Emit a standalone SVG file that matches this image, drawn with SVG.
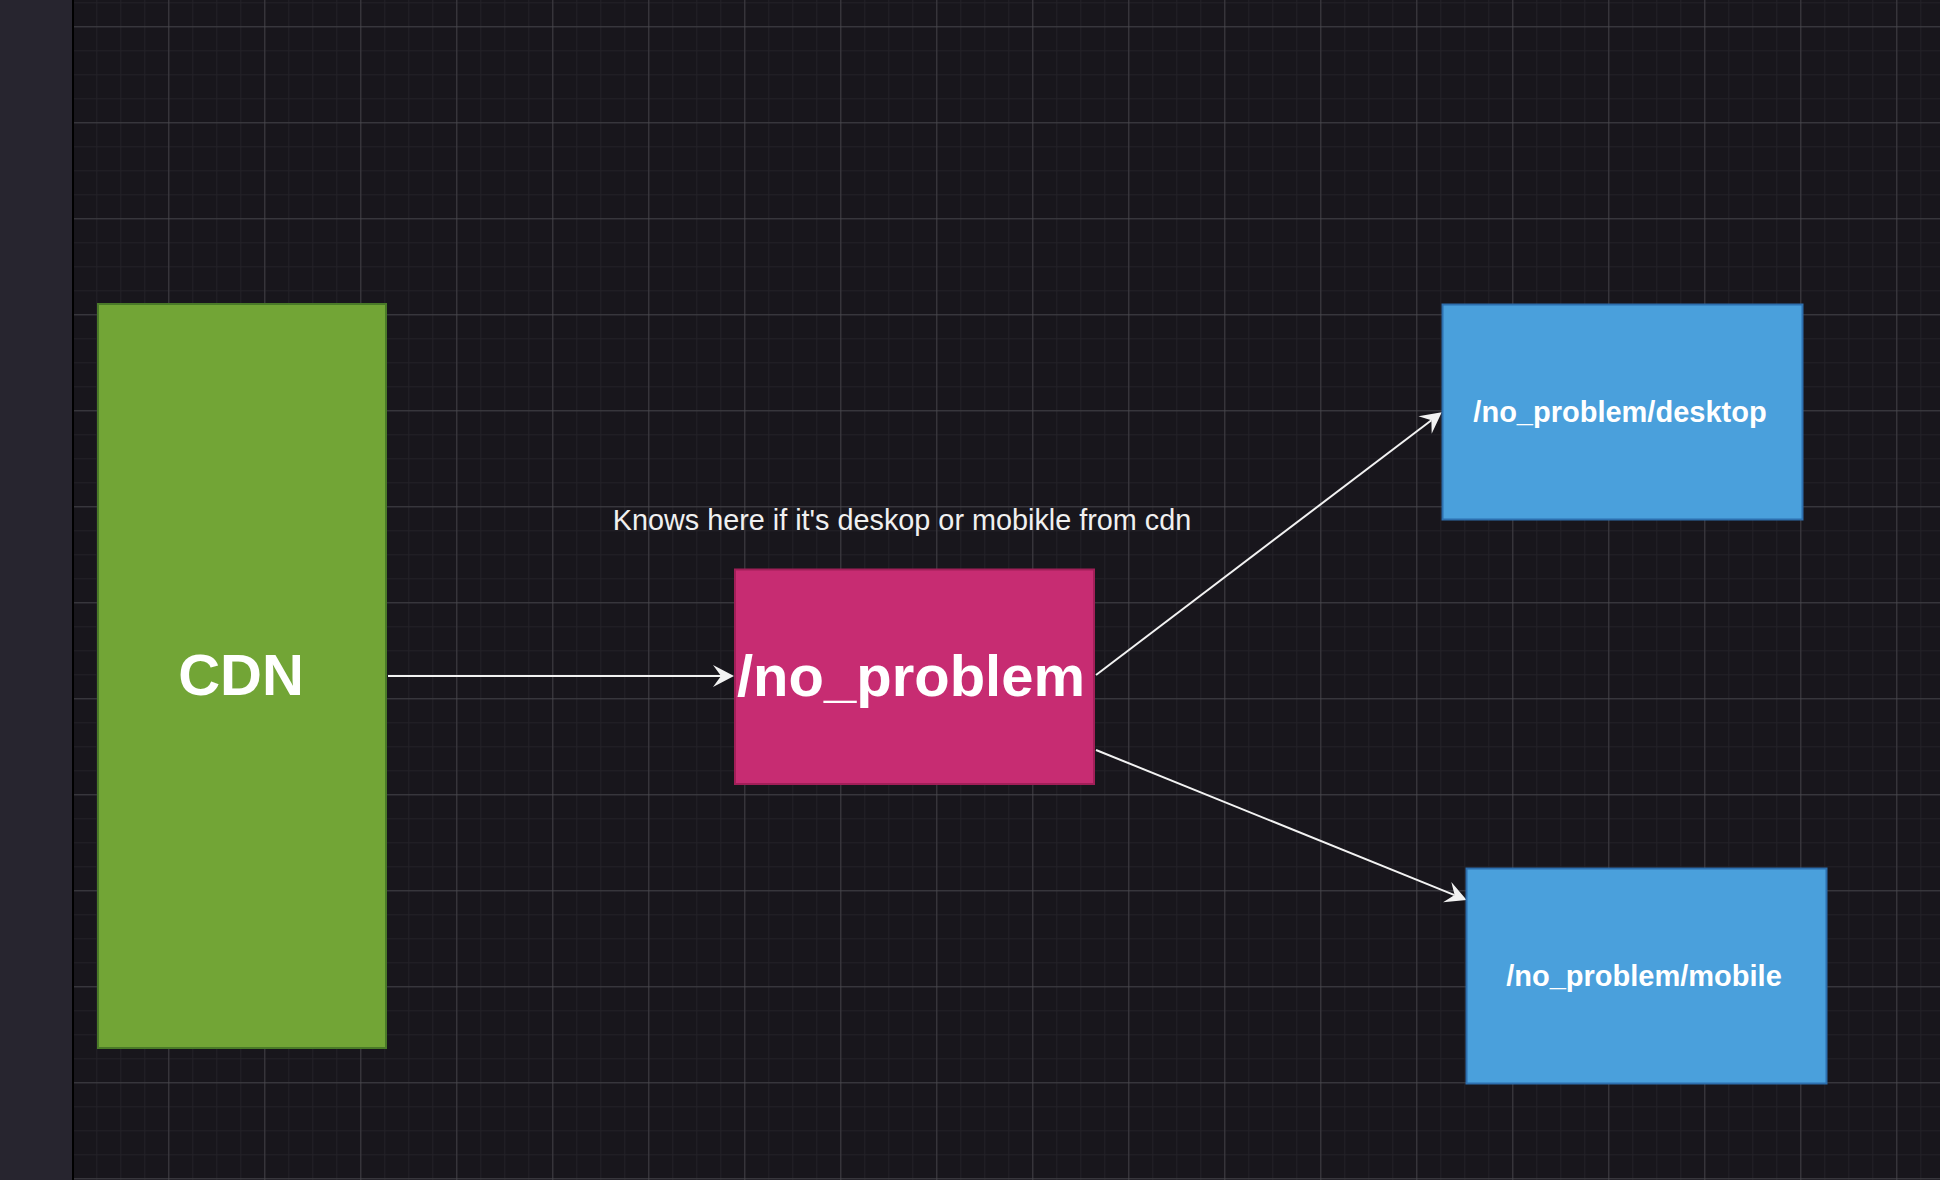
<svg xmlns="http://www.w3.org/2000/svg" width="1940" height="1180" viewBox="0 0 1940 1180">
  <style>
    .lbl { font-family: "Liberation Sans", Arial, Helvetica, sans-serif; fill: #ffffff; text-anchor: middle; }
    .bold { font-weight: bold; }
    .conn { stroke: #f2f2f2; stroke-width: 2; fill: none; marker-end: url(#arrow); }
  </style>
  <defs>
    <pattern id="minor" patternUnits="userSpaceOnUse" x="72.3" y="26.3" width="24" height="24">
      <path d="M0 0 H24 M0 0 V24" stroke="#232128" stroke-width="2" fill="none"/>
    </pattern>
    <pattern id="major" patternUnits="userSpaceOnUse" x="72.3" y="26.3" width="96" height="96">
      <path d="M0 0 H96 M0 0 V96" stroke="#4c4b51" stroke-width="1.4" fill="none"/>
    </pattern>
    <marker id="arrow" markerUnits="userSpaceOnUse" viewBox="0 -12 22 24" markerWidth="22" markerHeight="24" refX="8" refY="0" orient="auto" overflow="visible">
      <path d="M0 -11 L21 0 L0 11 L8 0 Z" fill="#f2f2f2"/>
    </marker>
  </defs>

  <rect x="0" y="0" width="1940" height="1180" fill="#18161c"/>
  <rect x="72" y="0" width="1868" height="1180" fill="url(#minor)"/>
  <rect x="72" y="0" width="1868" height="1180" fill="url(#major)"/>
  <rect x="0" y="0" width="72" height="1180" fill="#27252f"/>
  <rect x="72" y="0" width="2" height="1180" fill="#000000"/>

  <g id="connectors">
    <line class="conn" x1="388" y1="676" x2="721" y2="676"/>
    <line class="conn" x1="1096" y1="675" x2="1431.4" y2="420.2"/>
    <line class="conn" x1="1096" y1="750" x2="1454.6" y2="895.1"/>
  </g>

  <g id="cdn">
    <rect x="98" y="304" width="288" height="744" fill="#72a536" stroke="#4a7a28" stroke-width="2"/>
    <text class="lbl bold" x="241" y="695" font-size="58">CDN</text>
  </g>

  <g id="no_problem">
    <rect x="735" y="569.5" width="359" height="214.5" fill="#c72c72" stroke="#a11f58" stroke-width="2"/>
    <text class="lbl bold" x="911" y="696" font-size="58">/no_problem</text>
  </g>

  <g id="desktop">
    <rect x="1442.5" y="304.5" width="360" height="215" fill="#4aa0dc" stroke="#2d6fae" stroke-width="2"/>
    <text class="lbl bold" x="1620" y="422" font-size="29">/no_problem/desktop</text>
  </g>

  <g id="mobile">
    <rect x="1466.5" y="868.5" width="360" height="215" fill="#4aa0dc" stroke="#2d6fae" stroke-width="2"/>
    <text class="lbl bold" x="1644" y="986" font-size="29">/no_problem/mobile</text>
  </g>

  <g id="note">
    <text class="lbl" x="902" y="530" font-size="28.8" style="fill:#f0f0f0">Knows here if it's deskop or mobikle from cdn</text>
  </g>
</svg>
